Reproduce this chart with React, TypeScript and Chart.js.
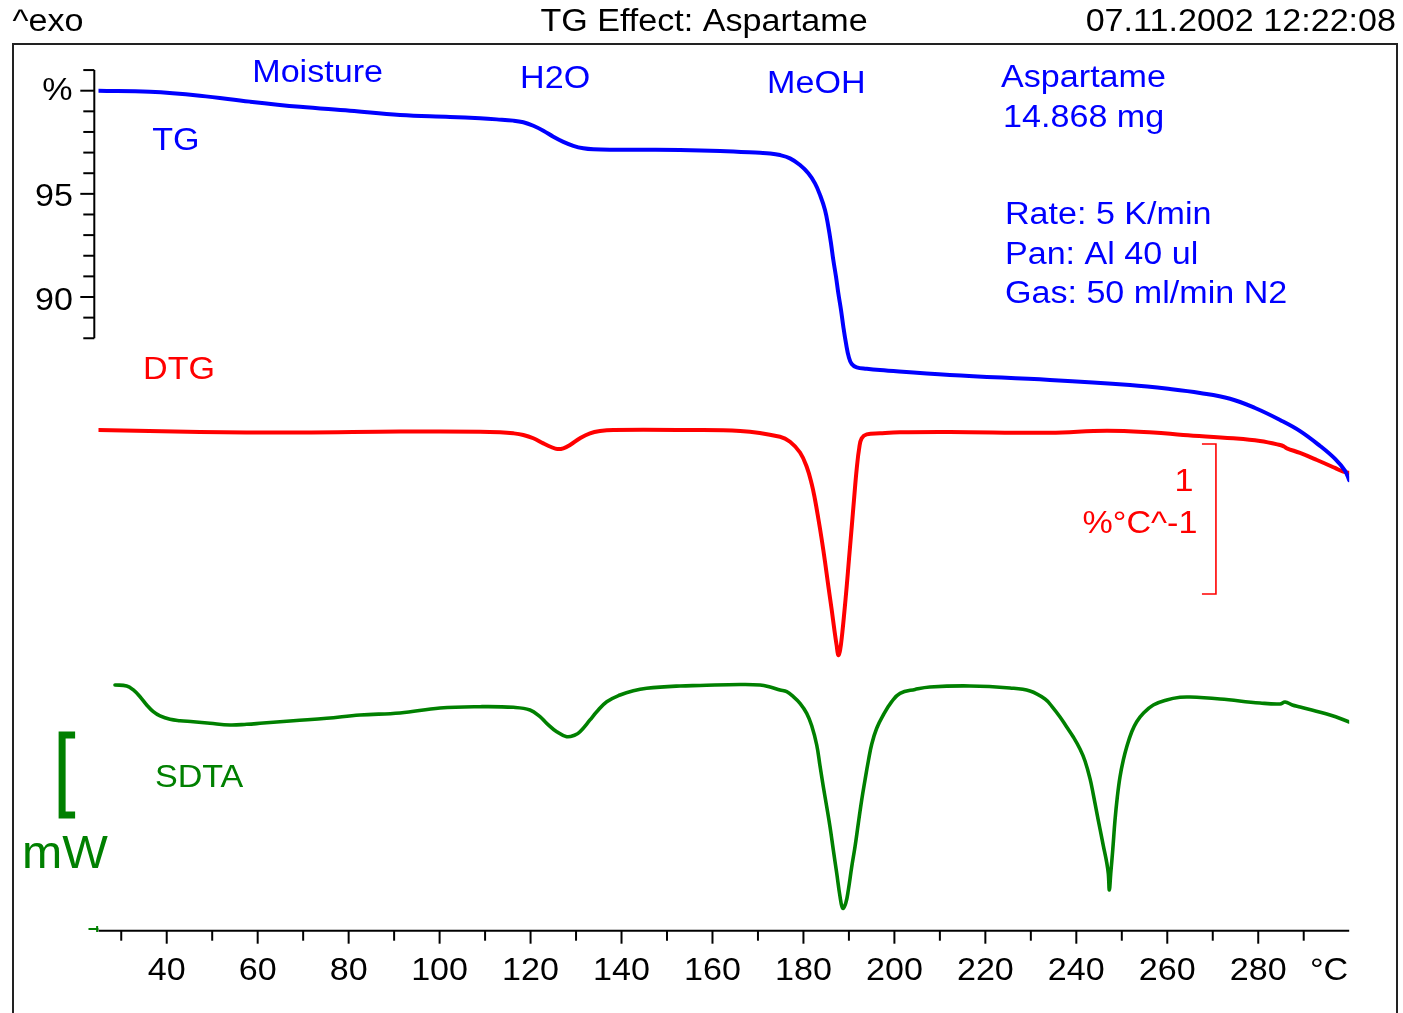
import React, { useEffect, useRef } from 'react';
import { Chart, registerables } from 'chart.js';

Chart.register(...registerables);

// ---------------- data ----------------
// TG curve: temperature (°C) and mass (%)
const tgTemp = [25, 36.3, 47.3, 58.3, 69.3, 80.3, 91.3, 102.3, 108.89, 112.56, 116.21, 118.41, 120.61, 122.81, 125.0, 127.2, 129.4, 131.6, 133.8, 138.2, 145.54, 152.89, 161.7, 170.44, 172.64, 174.84, 177.04, 179.24, 181.07, 182.54, 183.64, 184.74, 185.47, 186.06, 186.57, 187.16, 187.67, 188.26, 188.77, 189.36, 189.96, 190.62, 191.71, 193.91, 196.84, 212.2, 234.2, 251.8, 260.6, 267.2, 273.8, 279.3, 284.8, 289.2, 293.6, 296.9, 299.1, 300];
const tgPct = [100.0, 99.95, 99.76, 99.47, 99.22, 99.03, 98.82, 98.73, 98.66, 98.61, 98.55, 98.47, 98.30, 98.06, 97.77, 97.52, 97.33, 97.21, 97.16, 97.14, 97.14, 97.13, 97.08, 96.99, 96.96, 96.88, 96.72, 96.40, 96.00, 95.51, 94.95, 94.22, 93.41, 92.60, 91.79, 90.98, 90.18, 89.37, 88.56, 87.75, 87.10, 86.75, 86.59, 86.52, 86.46, 86.22, 85.98, 85.73, 85.54, 85.35, 85.07, 84.62, 84.04, 83.50, 82.78, 82.15, 81.57, 81.12];

// DTG curve: temperature (°C) and rate (%/°C)
const dtgTemp = [25, 47.3, 69.3, 91.3, 108.89, 113.29, 116.21, 118.41, 120.61, 122.81, 124.65, 125.88, 127.2, 128.68, 130.87, 133.07, 135.27, 138.2, 152.89, 166.1, 174.85, 177.05, 179.25, 180.72, 181.82, 182.52, 183.27, 184.02, 184.75, 185.47, 186.22, 186.79, 187.32, 187.67, 188.05, 188.55, 188.99, 189.52, 190.03, 190.62, 191.13, 191.71, 192.29, 192.81, 193.91, 196.84, 201.2, 212.2, 234.2, 246.7, 256.95, 263.5, 274.5, 280.38, 284.8, 285.66, 286.3, 289.18, 292.9, 296.88, 298.7, 300];
const dtgVal = [0.0, -0.013, -0.017, -0.010, -0.011, -0.015, -0.022, -0.033, -0.055, -0.089, -0.115, -0.127, -0.122, -0.100, -0.055, -0.022, -0.007, 0.0, 0.0, -0.007, -0.045, -0.078, -0.150, -0.245, -0.360, -0.460, -0.590, -0.730, -0.880, -1.040, -1.200, -1.330, -1.440, -1.500, -1.470, -1.350, -1.215, -1.040, -0.855, -0.645, -0.460, -0.260, -0.115, -0.055, -0.029, -0.022, -0.015, -0.013, -0.018, -0.005, -0.017, -0.033, -0.055, -0.073, -0.100, -0.110, -0.122, -0.153, -0.200, -0.253, -0.278, -0.285];

// SDTA curve: temperature (°C) and heat flow (mW)
const sdtaTemp = [28.63, 31.2, 32.66, 34.13, 35.6, 37.05, 38.53, 40.73, 42.93, 45.85, 49.52, 53.92, 57.59, 60.51, 67.84, 75.18, 82.5, 91.3, 100.1, 108.89, 116.21, 119.88, 122.08, 123.55, 125.75, 127.95, 129.77, 130.87, 133.07, 134.55, 136.75, 139.67, 142.6, 145.54, 152.87, 157.27, 166.07, 170.47, 172.67, 174.85, 176.32, 177.78, 179.25, 180.72, 181.82, 182.92, 183.64, 184.37, 185.12, 185.84, 186.57, 187.32, 188.05, 188.64, 189.3, 189.87, 190.62, 191.34, 192.07, 192.81, 193.54, 194.27, 195.01, 196.11, 197.56, 199.41, 201.24, 204.54, 207.8, 216.6, 225.4, 229.82, 233.12, 234.66, 236.42, 237.89, 239.34, 240.81, 241.91, 243.01, 243.74, 244.48, 245.21, 245.94, 246.69, 247.04, 247.26, 247.57, 248.01, 248.51, 249.02, 249.61, 250.34, 251.09, 252.19, 253.28, 254.74, 256.93, 259.88, 262.8, 265.0, 271.6, 280.4, 284.8, 285.9, 287.5, 289.2, 295.8, 300];
const sdtaVal = [3.050, 3.038, 2.988, 2.904, 2.800, 2.716, 2.663, 2.621, 2.604, 2.591, 2.571, 2.550, 2.559, 2.571, 2.604, 2.634, 2.675, 2.700, 2.763, 2.779, 2.771, 2.738, 2.654, 2.571, 2.466, 2.404, 2.425, 2.466, 2.613, 2.716, 2.841, 2.925, 2.979, 3.009, 3.038, 3.044, 3.056, 3.050, 3.025, 2.988, 2.966, 2.904, 2.821, 2.696, 2.540, 2.300, 2.040, 1.779, 1.529, 1.279, 0.988, 0.696, 0.404, 0.259, 0.321, 0.488, 0.779, 1.029, 1.321, 1.613, 1.863, 2.100, 2.310, 2.509, 2.675, 2.842, 2.946, 2.994, 3.025, 3.038, 3.013, 2.975, 2.875, 2.780, 2.650, 2.525, 2.400, 2.250, 2.100, 1.880, 1.680, 1.460, 1.250, 1.040, 0.830, 0.690, 0.488, 0.696, 0.988, 1.363, 1.654, 1.904, 2.113, 2.279, 2.466, 2.591, 2.696, 2.800, 2.863, 2.896, 2.900, 2.875, 2.825, 2.813, 2.838, 2.800, 2.775, 2.675, 2.588];

// axis ticks
const xMajorTicks = [40, 60, 80, 100, 120, 140, 160, 180, 200, 220, 240, 260, 280];
const xMinorTicks = [30, 50, 70, 90, 110, 130, 150, 170, 190, 210, 230, 250, 270, 290];
const xUnitLabel = '°C';
const tgAxisTicks = [88, 89, 90, 91, 92, 93, 94, 95, 96, 97, 98, 99, 100, 101];
const tgAxisLabels = [90, 95];
const tgUnitLabel = '%';

// header texts
const headerLeft = '^exo';
const headerTitle = 'TG Effect: Aspartame';
const headerRight = '07.11.2002 12:22:08';

// annotations (x in °C, y in the unit of the curve they belong to)
const tgNotes = [
  { text: 'Moisture', t: 58.8, v: 100.42 },
  { text: 'TG', t: 36.8, v: 97.13 },
  { text: 'H2O', t: 117.7, v: 100.13 },
  { text: 'MeOH', t: 172.0, v: 99.89 },
  { text: 'Aspartame', t: 223.45, v: 100.18 },
  { text: '14.868 mg', t: 223.9, v: 98.24 },
  { text: 'Rate: 5 K/min', t: 224.3, v: 93.54 },
  { text: 'Pan: Al 40 ul', t: 224.3, v: 91.6 },
  { text: 'Gas: 50 ml/min N2', t: 224.3, v: 89.71 },
];
const dtgNotes = [{ text: 'DTG', t: 34.8, v: 0.34 }];
const dtgScaleBar = { value: 1, top: -0.093, t: 270.7, label: '1', unit: '%°C^-1' };
const sdtaNotes = [{ text: 'SDTA', t: 37.4, v: 1.775 }];
const sdtaScaleBar = { value: 1, top: 2.425, t: 17.0, unit: 'mW' };

// ---------------- layout / style ----------------
const W = 1403;
const H = 1013;
const FONT = "'Liberation Sans', Arial, Helvetica, sans-serif";
const SX = 1.1; // horizontal stretch of the original lettering
const BLUE = '#0000ff';
const RED = '#ff0000';
const GREEN = '#008000';
const AREA_TOP = 50;
const AREA_BOTTOM = 930.7;
const AREA_LEFT = 98.5;
const AREA_RIGHT = 1349.2;
const AREA_H = AREA_BOTTOM - AREA_TOP;

// vertical scale anchors: value at a given pixel row + pixels per unit
function rangeFor(value: number, row: number, pxPerUnit: number) {
  const max = value + (row - AREA_TOP) / pxPerUnit;
  return { min: max - AREA_H / pxPerUnit, max };
}
const tgRange = rangeFor(100, 90.7, 20.63);
const dtgRange = rangeFor(0, 430, 150);
const sdtaRange = rangeFor(0, 929, 80);

function pts(xs: number[], ys: number[]) {
  return xs.map((x, i) => ({ x, y: ys[i] }));
}

function drawText(ctx: CanvasRenderingContext2D, s: string, x: number, y: number, align: CanvasTextAlign, size: number, color: string, sx = SX) {
  ctx.save();
  ctx.font = `${size}px ${FONT}`;
  ctx.fillStyle = color;
  ctx.textAlign = align;
  ctx.textBaseline = 'alphabetic';
  ctx.translate(x, y);
  ctx.scale(sx, 1);
  ctx.fillText(s, 0, 0);
  ctx.restore();
}

const decorPlugin = {
  id: 'decor',
  afterDraw(chart: any) {
    const ctx: CanvasRenderingContext2D = chart.ctx;
    const area = chart.chartArea;
    const xs = chart.scales.x;
    const yTG = chart.scales.yTG;
    const yDTG = chart.scales.yDTG;
    const ySD = chart.scales.ySDTA;

    ctx.save();
    // frame
    ctx.strokeStyle = '#222';
    ctx.lineWidth = 2;
    ctx.strokeRect(13, 44, 1384, 1000);

    // header
    drawText(ctx, headerLeft, 12.5, 31, 'left', 31, '#000');
    drawText(ctx, headerTitle, 704, 31, 'center', 31, '#000');
    drawText(ctx, headerRight, 1396, 31, 'right', 31, '#000');

    // TG axis (left, partial)
    const ax = area.left - 4.2;
    ctx.strokeStyle = '#000';
    ctx.lineWidth = 2;
    ctx.beginPath();
    ctx.moveTo(ax, yTG.getPixelForValue(tgAxisTicks[tgAxisTicks.length - 1]));
    ctx.lineTo(ax, yTG.getPixelForValue(tgAxisTicks[0]));
    ctx.stroke();
    tgAxisTicks.forEach((v) => {
      const py = yTG.getPixelForValue(v);
      const major = v % 5 === 0;
      ctx.beginPath();
      ctx.moveTo(ax - (major ? 14 : 11), py);
      ctx.lineTo(ax, py);
      ctx.stroke();
    });
    tgAxisLabels.forEach((v) => {
      drawText(ctx, String(v), 73, yTG.getPixelForValue(v) + 12.5, 'right', 31, '#000');
    });
    drawText(ctx, tgUnitLabel, 72.5, yTG.getPixelForValue(100) + 9, 'right', 31, '#000');

    // X axis
    const by = area.bottom;
    ctx.beginPath();
    ctx.moveTo(area.left, by);
    ctx.lineTo(area.right, by);
    ctx.stroke();
    xMajorTicks.forEach((t) => {
      const px = xs.getPixelForValue(t);
      ctx.beginPath();
      ctx.moveTo(px, by);
      ctx.lineTo(px, by + 13);
      ctx.stroke();
      drawText(ctx, String(t), px, by + 49.3, 'center', 31, '#000');
    });
    xMinorTicks.forEach((t) => {
      const px = xs.getPixelForValue(t);
      ctx.beginPath();
      ctx.moveTo(px, by);
      ctx.lineTo(px, by + 10);
      ctx.stroke();
    });
    drawText(ctx, xUnitLabel, area.right - 1, by + 49.3, 'right', 31, '#000');

    // SDTA zero marker on the axis
    const z = ySD.getPixelForValue(0);
    ctx.strokeStyle = GREEN;
    ctx.lineWidth = 2;
    ctx.beginPath();
    ctx.moveTo(xs.getPixelForValue(22.8), z);
    ctx.lineTo(area.left, z);
    ctx.moveTo(xs.getPixelForValue(24.7), z - 3);
    ctx.lineTo(xs.getPixelForValue(24.7), z + 3);
    ctx.stroke();

    // annotations
    tgNotes.forEach((n) => drawText(ctx, n.text, xs.getPixelForValue(n.t), yTG.getPixelForValue(n.v), 'left', 31, BLUE));
    dtgNotes.forEach((n) => drawText(ctx, n.text, xs.getPixelForValue(n.t), yDTG.getPixelForValue(n.v), 'left', 31, RED));
    sdtaNotes.forEach((n) => drawText(ctx, n.text, xs.getPixelForValue(n.t), ySD.getPixelForValue(n.v), 'left', 31, GREEN));

    // DTG scale bar  ]
    const bx = xs.getPixelForValue(dtgScaleBar.t);
    const bTop = yDTG.getPixelForValue(dtgScaleBar.top);
    const bBot = yDTG.getPixelForValue(dtgScaleBar.top - dtgScaleBar.value);
    ctx.strokeStyle = RED;
    ctx.lineWidth = 1.6;
    ctx.beginPath();
    ctx.moveTo(bx - 14, bTop);
    ctx.lineTo(bx, bTop);
    ctx.lineTo(bx, bBot);
    ctx.lineTo(bx - 14, bBot);
    ctx.stroke();
    drawText(ctx, dtgScaleBar.label, bx - 22.5, bTop + 47, 'right', 31, RED);
    drawText(ctx, dtgScaleBar.unit, bx - 18.5, bTop + 89, 'right', 31, RED);

    // SDTA scale bar  [
    const gx = xs.getPixelForValue(sdtaScaleBar.t);
    const gTop = ySD.getPixelForValue(sdtaScaleBar.top);
    const gBot = ySD.getPixelForValue(sdtaScaleBar.top - sdtaScaleBar.value);
    ctx.strokeStyle = GREEN;
    ctx.lineWidth = 7;
    ctx.lineCap = 'butt';
    ctx.lineJoin = 'miter';
    ctx.beginPath();
    ctx.moveTo(gx + 13, gTop);
    ctx.lineTo(gx, gTop);
    ctx.lineTo(gx, gBot);
    ctx.lineTo(gx + 13, gBot);
    ctx.stroke();
    drawText(ctx, sdtaScaleBar.unit, 22, gBot + 52.5, 'left', 46, GREEN, 1.05);

    ctx.restore();
  },
};

export default function App() {
  const ref = useRef<HTMLCanvasElement | null>(null);

  useEffect(() => {
    document.body.style.margin = '0';
    document.body.style.overflow = 'hidden';
    const canvas = ref.current;
    if (!canvas) return;
    const common = {
      pointRadius: 0,
      borderWidth: 4,
      fill: false,
      borderJoinStyle: 'round' as const,
      borderCapStyle: 'round' as const,
      tension: 0.4,
    };
    const chart = new Chart(canvas, {
      type: 'line',
      data: {
        datasets: [
          { ...common, label: 'TG', data: pts(tgTemp, tgPct), borderColor: BLUE, yAxisID: 'yTG' },
          { ...common, label: 'DTG', data: pts(dtgTemp, dtgVal), borderColor: RED, yAxisID: 'yDTG' },
          { ...common, label: 'SDTA', data: pts(sdtaTemp, sdtaVal), borderColor: GREEN, yAxisID: 'ySDTA', borderWidth: 3.6 },
        ],
      },
      options: {
        responsive: false,
        animation: false,
        devicePixelRatio: 1,
        layout: {
          padding: { top: AREA_TOP, bottom: H - AREA_BOTTOM, left: AREA_LEFT, right: W - AREA_RIGHT },
        },
        plugins: {
          legend: { display: false },
          tooltip: { enabled: false },
          title: { display: false },
        },
        scales: {
          x: { type: 'linear', min: 25, max: 300, display: false },
          yTG: { type: 'linear', min: tgRange.min, max: tgRange.max, display: false },
          yDTG: { type: 'linear', min: dtgRange.min, max: dtgRange.max, display: false },
          ySDTA: { type: 'linear', min: sdtaRange.min, max: sdtaRange.max, display: false },
        },
      },
      plugins: [decorPlugin],
    });
    return () => chart.destroy();
  }, []);

  return (
    <div style={{ position: 'absolute', left: 0, top: 0, width: W, height: H, background: '#fff' }}>
      <canvas ref={ref} width={W} height={H} style={{ display: 'block' }} />
    </div>
  );
}
